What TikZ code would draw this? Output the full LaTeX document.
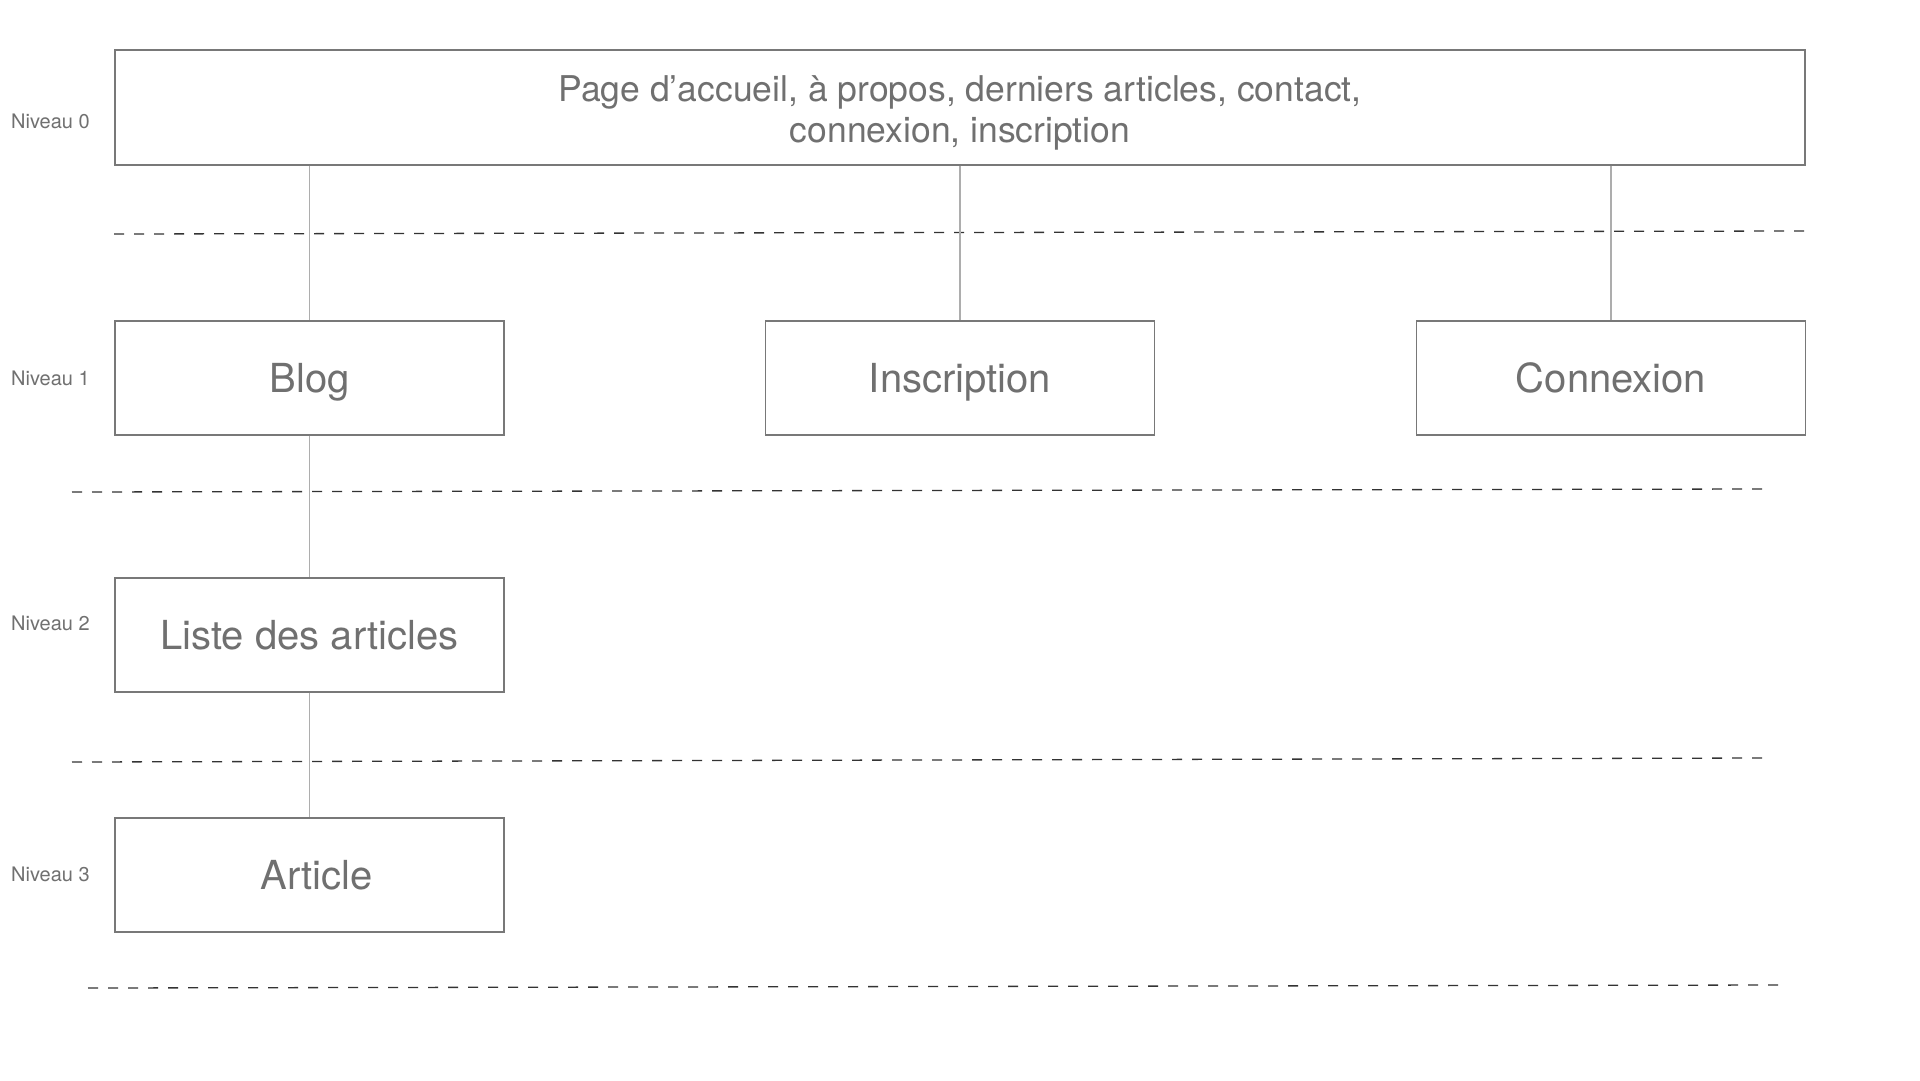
\documentclass[tikz,border=0pt]{standalone}
\usepackage{fontspec}
\setmainfont{TeX Gyre Heros}
\begin{document}
\begin{tikzpicture}[x=1pt,y=-1pt,
  txt/.style={text=black!56},
  box/.style={draw=black!53, line width=1.3pt, fill=white, inner sep=0pt, txt},
  lvl/.style={box, minimum width=389pt, minimum height=114pt, text height=28.7pt, text depth=0pt,
              font=\fontsize{40}{48}\selectfont},
  link/.style={draw=black!32, line width=1.6pt},
  sep/.style={draw=black!80, line width=1.3pt, dash pattern=on 10pt off 10pt},
  niv/.style={anchor=west, inner sep=0pt, txt, font=\fontsize{20}{24}\selectfont}]
\useasboundingbox (0,0) rectangle (1920,1080);
\fill[white] (0,0) rectangle (1920,1080);

% dashed level separators
\draw[sep] (114,234) -- (1805,231);
\draw[sep] (72,492) -- (1763,489);
\draw[sep] (72,762) -- (1763,758);
\draw[sep] (88,988) -- (1778,985);

% boxes
\node[box, minimum width=1690pt, minimum height=115pt] (home) at (960,107.5) {};
\node[txt, align=center, inner sep=0pt, font=\fontsize{35.5}{40.5}\selectfont] (hometext) at (960,113)
  {Page d’accueil, à propos, derniers articles, contact,\\connexion, inscription};
\node[lvl] (blog) at (309.5,378) {Blog};
\node[lvl] (insc) at (960,378) {Inscription};
\node[lvl] (conn) at (1611,378) {Connexion};
\node[lvl] (liste) at (309.5,635) {Liste des articles};
\node[lvl] (art) at (309.5,875) {\hspace*{14pt}Article};

% connectors
\draw[link] (home.south -| blog.north) -- (blog.north);
\draw[link] (home.south -| insc.north) -- (insc.north);
\draw[link] (home.south -| conn.north) -- (conn.north);
\draw[link] (blog.south) -- (liste.north);
\draw[link] (liste.south) -- (art.north);

% level labels
\node[niv] (n0) at (11,121) {Niveau 0};
\node[niv] (n1) at (11,378) {Niveau 1};
\node[niv] (n2) at (11,623) {Niveau 2};
\node[niv] (n3) at (11,874) {Niveau 3};
\end{tikzpicture}
\end{document}
